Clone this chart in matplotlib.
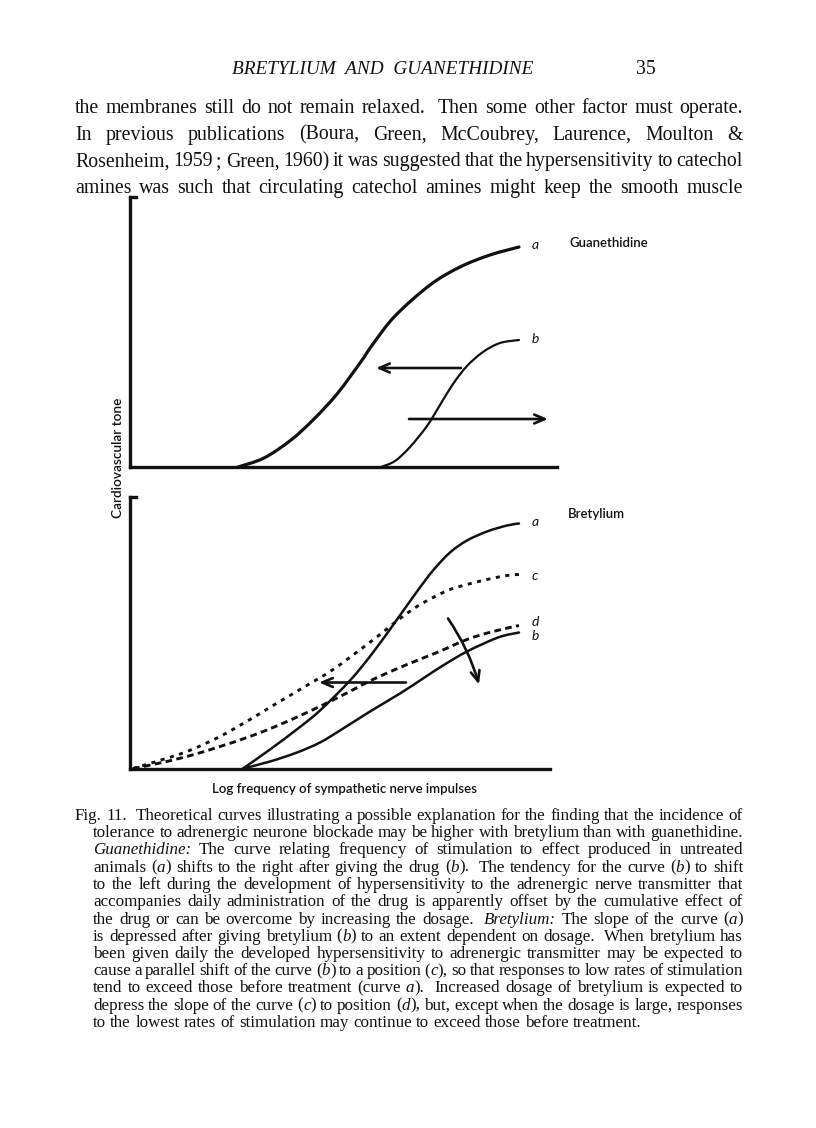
import matplotlib
matplotlib.use('Agg')
import matplotlib.pyplot as plt
from matplotlib.transforms import IdentityTransform
from matplotlib.path import Path
from matplotlib.patches import PathPatch

# ---------------- data (arbitrary units) ----------------
# Guanethidine panel: x = log frequency (0-427), y = cardiovascular tone (0-270)
g_a_x = [108, 134, 161, 184, 207, 230, 243, 265, 300, 330, 360, 389]
g_a_y = [0, 9, 27, 48, 73, 104, 123, 151, 182, 200, 212, 220]
g_b_x = [251, 265, 280, 297, 310, 323, 337, 353, 370, 389]
g_b_y = [0, 6, 20, 41, 62, 83, 101, 115, 124, 127]

# Bretylium panel: x (0-427), y (0-271.5)
b_a_x = [113, 140, 168, 190, 220, 243, 267, 287, 303, 320, 337, 357, 377, 389]
b_a_y = [0, 19, 40, 58, 88, 116, 149, 177, 198, 216, 228, 237, 243, 245]
b_b_x = [113, 140, 167, 190, 210, 240, 270, 293, 313, 337, 368, 389]
b_b_y = [0, 7, 16, 26, 38, 57, 75, 90, 103, 117, 131, 136]
b_c_x = [3, 23, 57, 90, 120, 143, 170, 203, 237, 255, 270, 287, 303, 320, 337, 357, 377, 389]
b_c_y = [0, 6, 17, 32, 49, 63, 79, 99, 124, 138, 150, 162, 171, 179, 184, 189, 193, 194]
b_d_x = [3, 23, 57, 90, 117, 143, 177, 210, 243, 277, 307, 337, 363, 389]
b_d_y = [0, 4, 12, 22, 31, 41, 56, 72, 89, 104, 116, 129, 137, 143]

curve_labels_top = ['a', 'b']
curve_labels_bottom = ['a', 'c', 'd', 'b']
panel_titles = ['Guanethidine', 'Bretylium']
y_label = 'Cardiovascular tone'
x_label = 'Log frequency of sympathetic nerve impulses'

header = 'BRETYLIUM  AND  GUANETHIDINE'
page_no = '35'
para = [
    "the membranes still do not remain relaxed.  Then some other factor must operate.",
    "In previous publications (Boura, Green, McCoubrey, Laurence, Moulton &",
    "Rosenheim, 1959 ; Green, 1960) it was suggested that the hypersensitivity to catechol",
    "amines was such that circulating catechol amines might keep the smooth muscle",
]
caption = [
    "Fig. 11.  Theoretical curves illustrating a possible explanation for the finding that the incidence of",
    "tolerance to adrenergic neurone blockade may be higher with bretylium than with guanethidine.",
    "_Guanethidine:_ The curve relating frequency of stimulation to effect produced in untreated",
    "animals (_a_) shifts to the right after giving the drug (_b_).  The tendency for the curve (_b_) to shift",
    "to the left during the development of hypersensitivity to the adrenergic nerve transmitter that",
    "accompanies daily administration of the drug is apparently offset by the cumulative effect of",
    "the drug or can be overcome by increasing the dosage.  _Bretylium:_ The slope of the curve (_a_)",
    "is depressed after giving bretylium (_b_) to an extent dependent on dosage.  When bretylium has",
    "been given daily the developed hypersensitivity to adrenergic transmitter may be expected to",
    "cause a parallel shift of the curve (_b_) to a position (_c_), so that responses to low rates of stimulation",
    "tend to exceed those before treatment (curve _a_).  Increased dosage of bretylium is expected to",
    "depress the slope of the curve (_c_) to position (_d_), but, except when the dosage is large, responses",
    "to the lowest rates of stimulation may continue to exceed those before treatment.",
]

# ---------------- figure ----------------
W, H = 816, 1128
fig = plt.figure(figsize=(W / 100, H / 100), dpi=100)
fig.patch.set_facecolor('white')
renderer = fig.canvas.get_renderer()
INK = '#111111'
SERIF = 'Liberation Serif'
SANS = 'Lato'

_cache = {}


def text_w(s, size, italic=False, family=SERIF):
    key = (s, size, italic, family)
    if key not in _cache:
        t = fig.text(0, 0, s, fontsize=size, family=family,
                     style='italic' if italic else 'normal')
        _cache[key] = t.get_window_extent(renderer).width
        t.remove()
    return _cache[key]


def space_w(size):
    return text_w('a a', size) - text_w('aa', size)


def parse(line):
    words, gaps, pending = [], [], 0
    for tok in line.split(' '):
        if tok == '':
            pending += 1
            continue
        if words:
            gaps.append(1 + pending)
        pending = 0
        parts = tok.split('_')
        words.append([(p, i % 2 == 1) for i, p in enumerate(parts) if p])
    return words, gaps


def natural_width(line, size, space_factor=1.0):
    words, gaps = parse(line)
    return (sum(text_w(s, size, it) for w in words for s, it in w)
            + sum(gaps) * space_w(size) * space_factor)


def draw_line(line, x0, x1, ybase, size, justify=True):
    words, gaps = parse(line)
    ww = [sum(text_w(s, size, it) for s, it in w) for w in words]
    unit = space_w(size)
    if justify and gaps:
        unit = (x1 - x0 - sum(ww)) / sum(gaps)
    x = x0
    for i, w in enumerate(words):
        for s, it in w:
            fig.text(x, H - ybase, s, transform=IdentityTransform(), fontsize=size,
                     family=SERIF, style='italic' if it else 'normal',
                     ha='left', va='baseline', color=INK)
            x += text_w(s, size, it)
        if i < len(gaps):
            x += unit * gaps[i]


# header
hsize = 10 * 301 / text_w(header, 10, True)
fig.text(232, H - 74, header, transform=IdentityTransform(), fontsize=hsize,
         family=SERIF, style='italic', ha='left', va='baseline', color=INK)

# body paragraph
psize = min(10 * 668 / natural_width(l, 10, 0.75) for l in para)
for i, l in enumerate(para):
    draw_line(l, 75, 743, 113 + i * 26.6, psize, True)
fig.text(636, H - 74, page_no, transform=IdentityTransform(), fontsize=psize,
         family=SERIF, ha='left', va='baseline', color=INK)

# caption
csize = min(10 * (668 if i == 0 else 650) / natural_width(l, 10, 0.8)
            for i, l in enumerate(caption[:-1]))
for i, l in enumerate(caption):
    x0 = 75 if i == 0 else 93
    draw_line(l, x0, 743, 820 + i * 17.25, csize, i < len(caption) - 1)

# ---------------- panels ----------------
AX_LW = 2.4


def make_panel(bottom_px, height_px, xspine_end):
    ax = fig.add_axes([130 / W, (H - bottom_px) / H, 427 / W, height_px / H])
    ax.set_xlim(0, 427)
    ax.set_ylim(0, height_px)
    ax.patch.set_alpha(0)
    for s in ('top', 'right'):
        ax.spines[s].set_visible(False)
    for s in ('left', 'bottom'):
        ax.spines[s].set_linewidth(AX_LW)
        ax.spines[s].set_color(INK)
        ax.spines[s].set_capstyle('projecting')
    ax.spines['bottom'].set_bounds(0, xspine_end)
    ax.set_xticks([])
    ax.set_yticks([])
    ax.plot([0, 6], [height_px, height_px], color=INK, lw=AX_LW,
            solid_capstyle='projecting', clip_on=False)
    return ax


def smooth_curve(ax, xs, ys, **kw):
    """Draw a smooth curve through the read points (Catmull-Rom as Bezier)."""
    pts = list(zip(xs, ys))
    n = len(pts)
    verts, codes = [pts[0]], [Path.MOVETO]
    for i in range(n - 1):
        p0 = pts[i - 1] if i > 0 else pts[i]
        p1, p2 = pts[i], pts[i + 1]
        p3 = pts[i + 2] if i + 2 < n else pts[i + 1]
        c1 = (p1[0] + (p2[0] - p0[0]) / 6, p1[1] + (p2[1] - p0[1]) / 6)
        c2 = (p2[0] - (p3[0] - p1[0]) / 6, p2[1] - (p3[1] - p1[1]) / 6)
        verts += [c1, c2, p2]
        codes += [Path.CURVE4] * 3
    patch = PathPatch(Path(verts, codes), fill=False, edgecolor=INK,
                      clip_on=False, **kw)
    ax.add_patch(patch)


def arrow(ax, tail, tip, rad=0.0):
    ax.annotate('', xy=tip, xytext=tail,
                arrowprops=dict(arrowstyle='->,head_length=0.75,head_width=0.32',
                                lw=1.9, color=INK, shrinkA=0, shrinkB=0,
                                connectionstyle=f'arc3,rad={rad}'),
                annotation_clip=False)


lab_kw = dict(family=SANS, style='italic', fontsize=10, color=INK,
              ha='left', va='center', clip_on=False)
title_kw = dict(family=SANS, fontsize=9.5, fontweight='semibold', color=INK,
                ha='left', va='center', clip_on=False)

# Guanethidine
ax1 = make_panel(467, 270, 427)
smooth_curve(ax1, g_a_x, g_a_y, lw=2.3, capstyle='round')
smooth_curve(ax1, g_b_x, g_b_y, lw=1.6, capstyle='round')
arrow(ax1, (331, 99), (246, 99))
arrow(ax1, (279, 48), (418, 48))
ax1.text(402, g_a_y[-1] + 2, curve_labels_top[0], **lab_kw)
ax1.text(402, g_b_y[-1] + 1, curve_labels_top[1], **lab_kw)
ax1.text(439, 224, panel_titles[0], **title_kw)

# Bretylium
ax2 = make_panel(768.5, 271.5, 420)
smooth_curve(ax2, b_a_x, b_a_y, lw=1.8, capstyle='round')
smooth_curve(ax2, b_b_x, b_b_y, lw=1.8, capstyle='round')
smooth_curve(ax2, b_c_x, b_c_y, lw=2.1, linestyle=(0, (1.4, 1.9)), capstyle='butt')
smooth_curve(ax2, b_d_x, b_d_y, lw=2.1, linestyle=(0, (2.3, 1.5)), capstyle='butt')
arrow(ax2, (276, 86), (189, 86))
arrow(ax2, (318, 150), (349, 84), rad=-0.08)
ax2.text(402, b_a_y[-1] + 1, curve_labels_bottom[0], **lab_kw)
ax2.text(402, b_c_y[-1] - 1, curve_labels_bottom[1], **lab_kw)
ax2.text(402, b_d_y[-1] + 4, curve_labels_bottom[2], **lab_kw)
ax2.text(402, b_b_y[-1] - 3, curve_labels_bottom[3], **lab_kw)
ax2.text(438, 255, panel_titles[1], **title_kw)

fig.text(118 / W, 1 - 458 / H, y_label, rotation=90, family=SANS, fontsize=9.8,
         fontweight='semibold', color=INK, ha='center', va='center')
fig.text(345 / W, 1 - 789 / H, x_label, family=SANS, fontsize=9.5,
         fontweight='semibold', color=INK, ha='center', va='center')

fig.savefig('out.png', dpi=100, facecolor='white')
